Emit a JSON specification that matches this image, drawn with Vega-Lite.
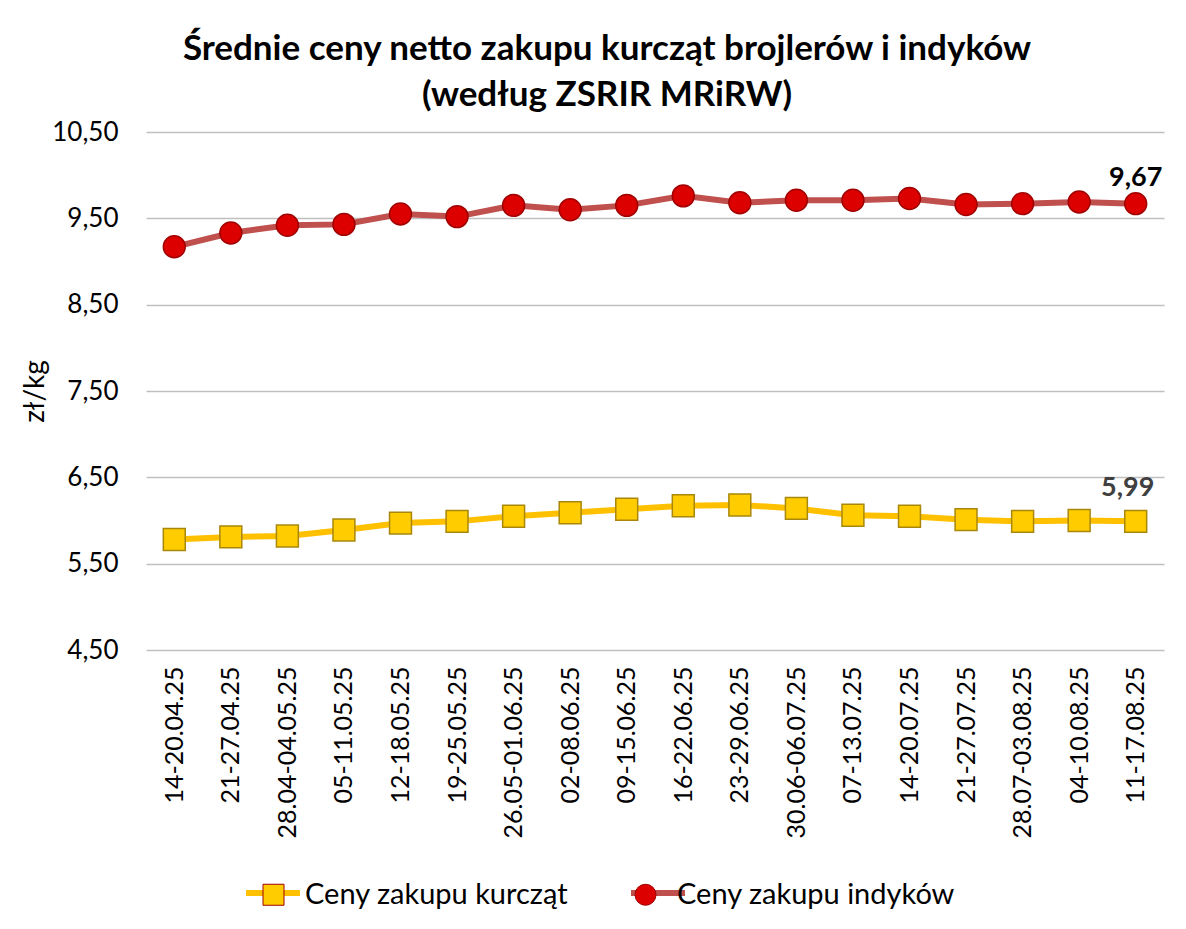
{
  "$schema": "https://vega.github.io/schema/vega-lite/v6.json",
  "autosize": {"type": "none"},
  "padding": {"left": 146, "top": 132, "right": 22, "bottom": 279},
  "width": 1018,
  "height": 518,
  "background": "white",
  "config": {
    "font": "Lato",
    "view": {"stroke": null}
  },
  "title": {
    "text": ["Średnie ceny netto zakupu kurcząt brojlerów i indyków", "(według ZSRIR MRiRW)"],
    "font": "Lato",
    "fontSize": 35,
    "fontWeight": "bold",
    "lineHeight": 46,
    "color": "#000000",
    "anchor": "middle",
    "dx": -48,
    "offset": 6
  },
  "data": {
    "values": [
      {"week": "14-20.04.25", "series": "Ceny zakupu kurcząt", "value": 5.78},
      {"week": "21-27.04.25", "series": "Ceny zakupu kurcząt", "value": 5.81},
      {"week": "28.04-04.05.25", "series": "Ceny zakupu kurcząt", "value": 5.82},
      {"week": "05-11.05.25", "series": "Ceny zakupu kurcząt", "value": 5.89},
      {"week": "12-18.05.25", "series": "Ceny zakupu kurcząt", "value": 5.97},
      {"week": "19-25.05.25", "series": "Ceny zakupu kurcząt", "value": 5.99},
      {"week": "26.05-01.06.25", "series": "Ceny zakupu kurcząt", "value": 6.05},
      {"week": "02-08.06.25", "series": "Ceny zakupu kurcząt", "value": 6.09},
      {"week": "09-15.06.25", "series": "Ceny zakupu kurcząt", "value": 6.13},
      {"week": "16-22.06.25", "series": "Ceny zakupu kurcząt", "value": 6.17},
      {"week": "23-29.06.25", "series": "Ceny zakupu kurcząt", "value": 6.18},
      {"week": "30.06-06.07.25", "series": "Ceny zakupu kurcząt", "value": 6.14},
      {"week": "07-13.07.25", "series": "Ceny zakupu kurcząt", "value": 6.06},
      {"week": "14-20.07.25", "series": "Ceny zakupu kurcząt", "value": 6.05},
      {"week": "21-27.07.25", "series": "Ceny zakupu kurcząt", "value": 6.01},
      {"week": "28.07-03.08.25", "series": "Ceny zakupu kurcząt", "value": 5.99},
      {"week": "04-10.08.25", "series": "Ceny zakupu kurcząt", "value": 6.00},
      {"week": "11-17.08.25", "series": "Ceny zakupu kurcząt", "value": 5.99, "label": "5,99"},
      {"week": "14-20.04.25", "series": "Ceny zakupu indyków", "value": 9.17},
      {"week": "21-27.04.25", "series": "Ceny zakupu indyków", "value": 9.33},
      {"week": "28.04-04.05.25", "series": "Ceny zakupu indyków", "value": 9.42},
      {"week": "05-11.05.25", "series": "Ceny zakupu indyków", "value": 9.43},
      {"week": "12-18.05.25", "series": "Ceny zakupu indyków", "value": 9.55},
      {"week": "19-25.05.25", "series": "Ceny zakupu indyków", "value": 9.52},
      {"week": "26.05-01.06.25", "series": "Ceny zakupu indyków", "value": 9.65},
      {"week": "02-08.06.25", "series": "Ceny zakupu indyków", "value": 9.60},
      {"week": "09-15.06.25", "series": "Ceny zakupu indyków", "value": 9.65},
      {"week": "16-22.06.25", "series": "Ceny zakupu indyków", "value": 9.76},
      {"week": "23-29.06.25", "series": "Ceny zakupu indyków", "value": 9.68},
      {"week": "30.06-06.07.25", "series": "Ceny zakupu indyków", "value": 9.71},
      {"week": "07-13.07.25", "series": "Ceny zakupu indyków", "value": 9.71},
      {"week": "14-20.07.25", "series": "Ceny zakupu indyków", "value": 9.73},
      {"week": "21-27.07.25", "series": "Ceny zakupu indyków", "value": 9.66},
      {"week": "28.07-03.08.25", "series": "Ceny zakupu indyków", "value": 9.67},
      {"week": "04-10.08.25", "series": "Ceny zakupu indyków", "value": 9.69},
      {"week": "11-17.08.25", "series": "Ceny zakupu indyków", "value": 9.67, "label": "9,67"}
    ]
  },
  "encoding": {
    "x": {
      "field": "week",
      "type": "nominal",
      "sort": null,
      "scale": {"padding": 0.5},
      "axis": {
        "title": null,
        "labelAngle": -90,
        "labelFontSize": 25,
        "labelColor": "#000000",
        "labelPadding": 16,
        "ticks": false,
        "domain": false,
        "grid": false
      }
    },
    "y": {
      "field": "value",
      "type": "quantitative",
      "scale": {"domain": [4.5, 10.5], "nice": false, "zero": false},
      "axis": {
        "title": "zł/kg",
        "titleFontSize": 28,
        "titleFontWeight": "normal",
        "titleColor": "#000000",
        "titleX": -111,
        "titleBaseline": "middle",
        "values": [4.5, 5.5, 6.5, 7.5, 8.5, 9.5, 10.5],
        "labelExpr": "replace(format(datum.value, '.2f'), '.', ',')",
        "labelFontSize": 26,
        "labelColor": "#000000",
        "labelPadding": 28,
        "ticks": false,
        "domain": false,
        "grid": true,
        "gridColor": "#C0C0C0",
        "gridWidth": 1.5
      }
    }
  },
  "layer": [
    {
      "mark": {"type": "line", "strokeWidth": 6},
      "encoding": {
        "stroke": {
          "field": "series",
          "type": "nominal",
          "sort": null,
          "scale": {"domain": {"unionWith": ["Ceny zakupu kurcząt", "Ceny zakupu indyków"]}, "range": ["#FFC000", "#C0504D"]},
          "legend": {
            "title": null,
            "orient": "none",
            "direction": "horizontal",
            "legendX": 97,
            "legendY": 731,
            "labelExpr": "''",
            "labelFontSize": 29,
            "symbolType": "stroke",
            "symbolSize": 2916,
            "symbolStrokeWidth": 6,
            "labelOffset": 0,
            "columnPadding": 307,
            "zindex": 0
          }
        }
      }
    },
    {
      "mark": {"type": "point", "filled": true, "size": 480, "strokeWidth": 1.5, "opacity": 1},
      "encoding": {
        "fill": {
          "field": "series",
          "type": "nominal",
          "scale": {"domain": ["Ceny zakupu kurcząt", "Ceny zakupu indyków"], "range": ["#FFCC00", "#DD0000"]},
          "legend": {
            "title": null,
            "orient": "none",
            "direction": "horizontal",
            "legendX": 113,
            "legendY": 748,
            "labelFontSize": 29,
            "labelColor": "#000000",
            "labelLimit": 0,
            "symbolSize": 441,
            "symbolStrokeWidth": 1,
            "symbolStrokeColor": "#8A6A00",
            "labelOffset": 17,
            "columnPadding": 62,
            "zindex": 1
          }
        },
        "shape": {
          "field": "series",
          "type": "nominal",
          "scale": {"domain": ["Ceny zakupu kurcząt", "Ceny zakupu indyków"], "range": ["square", "circle"]}
        },
        "stroke": {
          "condition": {"test": "datum.series == 'Ceny zakupu kurcząt'", "value": "#A8870A"},
          "value": "#A00000"
        }
      }
    },
    {
      "transform": [{"filter": "datum.label == '9,67'"}],
      "mark": {"type": "text", "fontSize": 27, "fontWeight": "bold", "dy": -26, "color": "#000000"},
      "encoding": {
        "text": {"field": "label"}
      }
    },
    {
      "transform": [{"filter": "datum.label == '5,99'"}],
      "mark": {"type": "text", "fontSize": 27, "fontWeight": "bold", "dy": -33, "dx": -8, "color": "#404040"},
      "encoding": {
        "text": {"field": "label"}
      }
    }
  ]
}
